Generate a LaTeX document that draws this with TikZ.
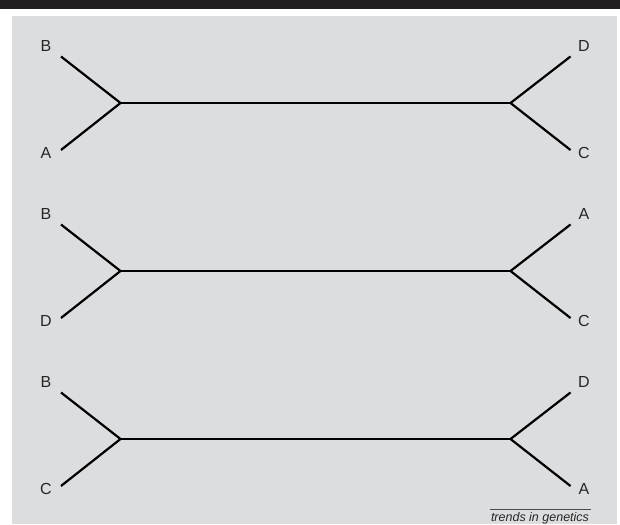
\documentclass[tikz,border=0pt]{standalone}
\usepackage{fontspec}
\setmainfont{Liberation Sans}
\usepackage{tikz}
\usetikzlibrary{positioning,calc}
\definecolor{panelgrey}{HTML}{DCDDDF}
\definecolor{barblack}{HTML}{231F20}

\begin{document}
\begin{tikzpicture}[
  x=1pt,y=-1pt,
  branch/.style={line width=2.2pt,black},
  taxon/.style={font=\fontsize{16}{16}\selectfont,inner sep=0pt,text=black!85},
  credit/.style={font=\fontsize{12.5}{13}\selectfont\itshape,inner sep=0pt,anchor=base,text=black!85}
]

% Frame
\useasboundingbox (0,0) rectangle (620,524);
\fill[white] (0,0) rectangle (620,524);
\fill[barblack] (0,0) rectangle (620,9.5);
\fill[panelgrey] (12,16) rectangle (617,524);

% First tree
\coordinate (jl1) at (120.5,103);
\coordinate (jr1) at (510.5,103);
\coordinate (ul1) at (61,56.5);
\coordinate (ll1) at (61,150);
\coordinate (ur1) at (570.5,56.5);
\coordinate (lr1) at (570.5,150);
\node[taxon] (tB1) at (46,46) {B};
\node[taxon] (tA1) at (46,153) {A};
\node[taxon] (tD1) at (584,46) {D};
\node[taxon] (tC1) at (584,153) {C};
\draw[branch] (ul1) -- (jl1) -- (ll1);
\draw[branch] (jl1) -- (jr1);
\draw[branch] (ur1) -- (jr1) -- (lr1);

% Second tree
\coordinate (jl2) at (120.5,271);
\coordinate (jr2) at (510.5,271);
\coordinate (ul2) at (61,224.5);
\coordinate (ll2) at (61,318);
\coordinate (ur2) at (570.5,224.5);
\coordinate (lr2) at (570.5,318);
\node[taxon] (tB2) at (46,214) {B};
\node[taxon] (tD2) at (46,321) {D};
\node[taxon] (tA2) at (584,214) {A};
\node[taxon] (tC2) at (584,321) {C};
\draw[branch] (ul2) -- (jl2) -- (ll2);
\draw[branch] (jl2) -- (jr2);
\draw[branch] (ur2) -- (jr2) -- (lr2);

% Third tree
\coordinate (jl3) at (120.5,439);
\coordinate (jr3) at (510.5,439);
\coordinate (ul3) at (61,392.5);
\coordinate (ll3) at (61,486);
\coordinate (ur3) at (570.5,392.5);
\coordinate (lr3) at (570.5,486);
\node[taxon] (tB3) at (46,382) {B};
\node[taxon] (tC3) at (46,489) {C};
\node[taxon] (tD3) at (584,382) {D};
\node[taxon] (tA3) at (584,489) {A};
\draw[branch] (ul3) -- (jl3) -- (ll3);
\draw[branch] (jl3) -- (jr3);
\draw[branch] (ur3) -- (jr3) -- (lr3);

% Journal mark
\node[credit] (mark) at (540,521) {trends in genetics};
\draw[black!70,line width=0.8pt] ([xshift=-1pt,yshift=2pt]mark.north west) -- ([xshift=2pt,yshift=2pt]mark.north east);

\end{tikzpicture}
\end{document}
